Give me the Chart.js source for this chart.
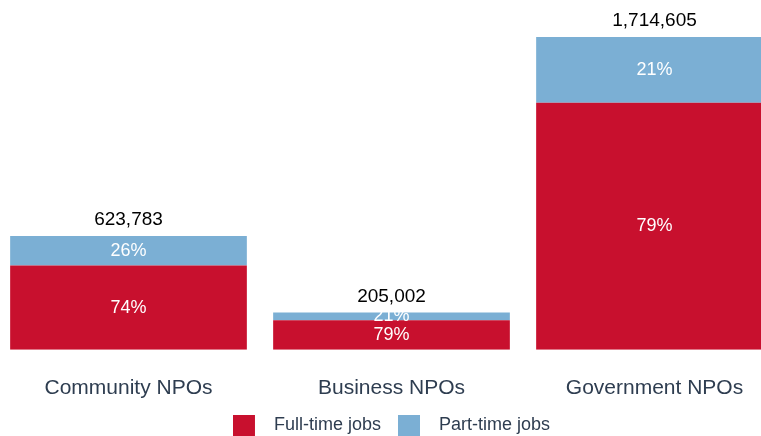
<!DOCTYPE html>
<html>
<head>
<meta charset="utf-8">
<script src="https://cdn.jsdelivr.net/npm/chart.js@4/dist/chart.umd.min.js"></script>
<style>
  html, body { margin: 0; padding: 0; background: #fff; overflow: hidden; }
  #wrap { position: absolute; left: -3px; top: 0; width: 789px; height: 446px; }
</style>
</head>
<body>
<div id="wrap"><canvas id="jobsChart"></canvas></div>
<script>
// Jobs by type of non-profit organisation, split full-time / part-time
const categories   = ["Community NPOs", "Business NPOs", "Government NPOs"];
const fullTimeJobs = [461599, 161952, 1354538];
const partTimeJobs = [162184, 43050, 360067];
const totals       = categories.map((_, i) => fullTimeJobs[i] + partTimeJobs[i]);

const COLORS = {
    fullTime: "#C8102E",
    partTime: "#7BAFD4",
    axisText: "#2E3D50",
    total:    "#000000",
    inside:   "#FFFFFF",
};
const FONT = "'Liberation Sans', Arial, sans-serif";

// Writes the share inside each segment and the total above each stack
const barLabels = {
    id: "barLabels",
    afterDatasetsDraw(chart) {
        const ctx = chart.ctx;
        ctx.save();
        ctx.textAlign = "center";
        ctx.textBaseline = "middle";
        ctx.font = `18px ${FONT}`;
        ctx.fillStyle = COLORS.inside;
        chart.data.datasets.forEach((ds, di) => {
            chart.getDatasetMeta(di).data.forEach((bar, i) => {
                const pct = Math.round(ds.data[i] / totals[i] * 100) + "%";
                ctx.fillText(pct, bar.x, (bar.y + bar.base) / 2);
            });
        });
        const top = chart.getDatasetMeta(chart.data.datasets.length - 1).data;
        ctx.font = `19px ${FONT}`;
        ctx.fillStyle = COLORS.total;
        top.forEach((bar, i) => {
            ctx.fillText(totals[i].toLocaleString("en-US"), bar.x, bar.y - 16);
        });
        ctx.restore();
    }
};

new Chart(document.getElementById("jobsChart"), {
    type: "bar",
    data: {
        labels: categories,
        datasets: [
            { label: "Full-time jobs", data: fullTimeJobs, backgroundColor: COLORS.fullTime },
            { label: "Part-time jobs", data: partTimeJobs, backgroundColor: COLORS.partTime },
        ]
    },
    options: {
        responsive: true,
        maintainAspectRatio: false,
        animation: false,
        categoryPercentage: 0.9,
        barPercentage: 1,
        layout: { padding: { top: 37, left: 0, right: 0, bottom: 0 } },
        scales: {
            x: {
                stacked: true,
                grid:   { display: false, drawTicks: false },
                border: { display: false },
                ticks:  { color: COLORS.axisText, padding: 26, font: { family: FONT, size: 21 } },
                // labels sit close to the legend, so give the bars the spare room
                afterFit(scale) { scale.height -= 29; },
            },
            y: {
                stacked: true,
                display: false,
                min: 0,
                max: totals[2],
            }
        },
        plugins: {
            legend: {
                position: "bottom",
                labels: {
                    color: COLORS.axisText,
                    font: { family: FONT, size: 18 },
                    boxWidth: 22,
                    boxHeight: 21,
                    padding: 17,
                    generateLabels(chart) {
                        // extra space between swatch and text
                        return Chart.defaults.plugins.legend.labels.generateLabels(chart)
                            .map(item => ({ ...item, text: "  " + item.text, lineWidth: 0 }));
                    }
                }
            },
            tooltip: { enabled: false },
        }
    },
    plugins: [barLabels]
});
</script>
</body>
</html>
